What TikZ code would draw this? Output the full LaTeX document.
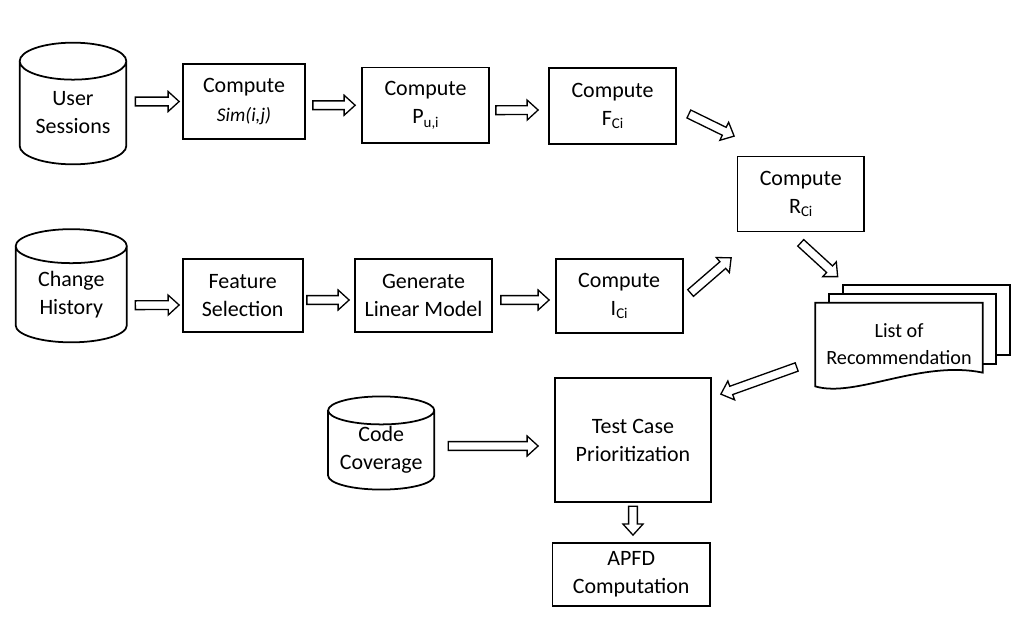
\documentclass[tikz,border=0pt]{standalone}
\usepackage{fontspec}
\setmainfont{Carlito}
\usetikzlibrary{calc,backgrounds}

\newcommand{\bodyfont}{\fontsize{12.5}{16}\selectfont}
\newcommand{\sub}[1]{\raisebox{-0.35ex}{\fontsize{8.5}{10}\selectfont #1}}

% database drum drawn round a named node
\newcommand{\drum}[2]{%
  \draw[line width=1pt] let \p1=(#1.north west), \p2=(#1.south east) in
    (\p1) -- (\x1,{\y2+#2}) arc[start angle=180, end angle=360, x radius={(\x2-\x1)/2}, y radius=#2] -- (\x2,\y1)
    (#1.north) ellipse [x radius={(\x2-\x1)/2}, y radius=#2];}

% hollow block arrow from #1 to #2
\newcommand{\blockarrow}[2]{%
  \coordinate (ba-s) at #1;
  \coordinate (ba-e) at #2;
  \coordinate (ba-c) at ($(ba-e)!0.22cm!(ba-s)$);
  \draw[barrow] ($(ba-s)!0.088cm!90:(ba-e)$) -- ($(ba-c)!0.088cm!90:(ba-e)$) -- ($(ba-c)!0.2cm!90:(ba-e)$)
    -- (ba-e) -- ($(ba-c)!0.2cm!-90:(ba-e)$) -- ($(ba-c)!0.088cm!-90:(ba-e)$) -- ($(ba-s)!0.088cm!-90:(ba-e)$) -- cycle;}

\begin{document}
\begin{tikzpicture}[x=0.02cm, y=-0.02cm,
    box/.style={draw, line width=1pt, align=center, inner sep=0pt, font=\bodyfont},
    dbtext/.style={align=center, inner sep=0pt, font=\bodyfont},
    barrow/.style={draw, line width=0.75pt, fill=white, line join=miter},
    docline/.style={draw, line width=1pt, fill=white}
  ]
  \useasboundingbox (0,0) rectangle (1022,618);

  % top row
  \node[dbtext, minimum width=2.12cm, minimum height=2.05cm] (us) at (73,112.75) {User\\Sessions};
  \drum{us}{0.37cm}
  \node[box, minimum width=2.44cm, minimum height=1.5cm] (sim) at (244,101.5) {Compute\\\textit{\fontsize{11}{14}\selectfont Sim(i,j)}};
  \node[box, minimum width=2.54cm, minimum height=1.51cm] (pui) at (425.5,105.25) {Compute\\P\sub{u,i}};
  \node[box, minimum width=2.54cm, minimum height=1.52cm] (fci) at (612.5,106) {Compute\\F\sub{Ci}};
  \node[box, minimum width=2.53cm, minimum height=1.5cm] (rci) at (800.75,194) {Compute\\R\sub{Ci}};

  % middle row
  \node[dbtext, minimum width=2.21cm, minimum height=1.91cm] (ch) at (71.25,294.25) {Change\\History};
  \drum{ch}{0.34cm}
  \node[box, minimum width=2.4cm, minimum height=1.45cm] (feat) at (242.7,295.5) {Feature\\Selection};
  \node[box, minimum width=2.74cm, minimum height=1.45cm] (gen) at (423.5,295.5) {Generate\\Linear Model};
  \node[box, minimum width=2.54cm, minimum height=1.47cm] (ici) at (619.2,296) {Compute\\I\sub{Ci}};

  % stacked documents
  \node[dbtext, font=\fontsize{11.5}{15.5}\selectfont, minimum width=3.34cm, minimum height=1.66cm] (rec) at (899,344.5) {List of\\Recommendation};
  \begin{scope}[on background layer]
    \draw[docline] ($(rec.north west)+(27.5,-18)$) rectangle ($(rec.north east)+(27.5,52)$);
    \draw[docline] ($(rec.north west)+(13.5,-9)$) rectangle ($(rec.north east)+(13.5,61)$);
    \draw[docline] (rec.north west) -- (rec.north east) -- ($(rec.north east)+(0,70)$)
      .. controls ($(rec.north east)+(-62,57)$) and ($(rec.south west)+(40,12)$) .. (rec.south west) -- cycle;
  \end{scope}

  % bottom part
  \node[dbtext, minimum width=2.11cm, minimum height=1.57cm] (cc) at (381.2,450) {Code\\Coverage};
  \drum{cc}{0.28cm}
  \node[box, minimum width=3.12cm, minimum height=2.48cm] (tcp) at (633,440.3) {Test Case\\Prioritization};
  \node[box, minimum width=3.15cm, minimum height=1.27cm] (apfd) at (631.2,574.4) {APFD\\Computation};

  % arrows
  \blockarrow{($(us.east |- sim.west)+(9,0)$)}{($(sim.west)+(-3,0)$)}
  \blockarrow{($(sim.east |- pui.west)+(7,0)$)}{($(pui.west)+(-6,0)$)}
  \blockarrow{($(pui.east)+(6,5)$)}{($(fci.west)+(-10,4)$)}
  \blockarrow{($(fci.east)+(12,8)$)}{($(rci.north west)+(-2.5,-19.5)$)}
  \blockarrow{($(ici.east)+(7,-3)$)}{($(rci.south west)+(-5.5,25.5)$)}
  \blockarrow{($(rci.south)+(0,10.5)$)}{($(rec.north west)+(22.5,-26)$)}
  \blockarrow{($(ch.east)+(8.5,11)$)}{($(feat.west)+(-2.7,9.5)$)}
  \blockarrow{($(feat.east)+(3.3,4.5)$)}{($(gen.west)+(-5,4.5)$)}
  \blockarrow{($(gen.east)+(8,4.5)$)}{($(ici.west)+(-5.7,4)$)}
  \blockarrow{($(rec.west)+(-18.5,22.5)$)}{($(tcp.north east)+(9,16.7)$)}
  \blockarrow{($(cc.east)+(14,-4)$)}{($(tcp.west)+(-16,5.7)$)}
  \blockarrow{($(tcp.south)+(0,3)$)}{($(apfd.north)+(1.8,-6.7)$)}
\end{tikzpicture}
\end{document}
